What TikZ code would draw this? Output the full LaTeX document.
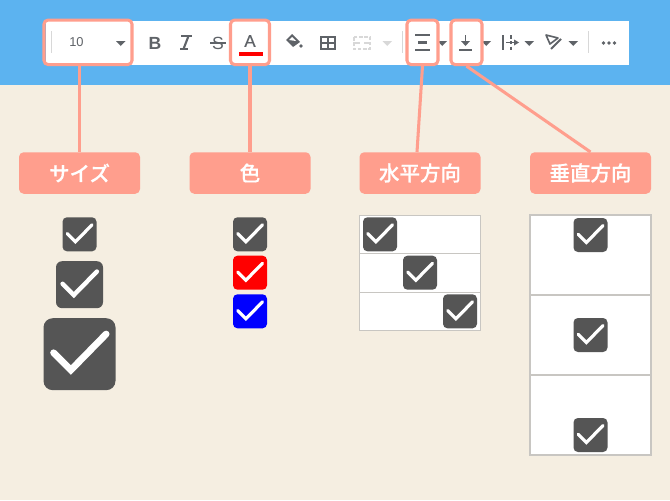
\documentclass[tikz,border=0pt]{standalone}
\usepackage{fontspec}
\setmainfont{Noto Sans CJK JP Medium}[FakeBold=0.5]
\newfontfamily\iconfont{Liberation Sans}
\newfontfamily\iconmed{Liberation Sans}[FakeBold=0.5]
\definecolor{bgcream}{HTML}{F5EEE1}
\definecolor{bandblue}{HTML}{5CB3F0}
\definecolor{salmon}{HTML}{FF9E8D}
\definecolor{icongrey}{HTML}{5F6368}
\definecolor{icondim}{HTML}{D8D8D8}
\definecolor{chkgrey}{HTML}{555555}
\definecolor{tablegrey}{HTML}{C8C6C2}

\begin{document}
\begin{tikzpicture}[x=0.03cm, y=-0.03cm]
\tikzset{hilite/.style={draw=salmon, line width=2.6pt, rounded corners=3.5pt, minimum height=44.5*0.03cm, inner sep=0pt},
  lab/.style={fill=salmon, text=white, rounded corners=4pt, minimum width=121*0.03cm, minimum height=41.5*0.03cm, inner sep=0pt, font=\fontsize{17.5}{17.5}\selectfont},
  link/.style={draw=salmon, line width=2.6pt},
  caret/.style={fill=icongrey},
  ico/.style={text=icongrey, inner sep=0pt, font=\iconfont\bfseries\fontsize{15}{15}\selectfont},
  glyph/.style={draw=icongrey, line width=1.8pt},
  dimglyph/.style={draw=icondim, line width=1.6pt},
  cell/.style={draw=tablegrey, fill=white, line width=0.8pt},
  cellb/.style={draw=tablegrey, fill=white, line width=1.3pt},
  pics/chk/.style n args={2}{code={
    \fill[#2, rounded corners=#1*0.11pt] (-0.5*#1, -0.5*#1) rectangle (0.5*#1, 0.5*#1);
    \draw[white, line width=#1*0.08pt, line cap=round, line join=miter] (-0.36*#1, -0.02*#1) -- (-0.12*#1, 0.22*#1) -- (0.37*#1, -0.28*#1);
  }}}
\useasboundingbox (0, 0) rectangle (670, 500);
\fill[bgcream] (0, 0) rectangle (670, 500);
\fill[bandblue] (0, 0) rectangle (670, 85);
\fill[white] (46, 20.5) rectangle (629, 64.5);

% toolbar
\draw[icondim, line width=0.8pt] (51, 31) -- (51, 53);
\node[text=icongrey, inner sep=0pt, font=\iconfont\fontsize{11}{11}\selectfont] (fontsize) at (76.5, 42.5) {10};
\fill[caret] (116, 41) -- (125.5, 41) -- (120.75, 46) -- cycle;
\node[ico] (bold) at (155, 43) {B};
\draw[glyph] (181, 36) -- (192, 36);
\draw[glyph] (188.5, 36) -- (183.5, 49);
\draw[glyph] (180, 49) -- (188, 49);
\node[ico, font=\iconfont\fontsize{15}{15}\selectfont] (strike) at (218, 43) {S};
\draw[glyph, line width=1.2pt] (210, 43) -- (226, 43);
\node[ico, font=\iconmed\fontsize{14.5}{14.5}\selectfont] (textcolor) at (250, 41) {A};
\fill[red] (239, 52) rectangle (263, 56);

% paint bucket
\fill[icongrey] (286, 40) -- (292, 34) -- (300, 42) -- (293, 47) -- cycle;
\fill[white] (289, 40) -- (292, 37) -- (296, 41) -- cycle;
\fill[icongrey] (301, 46) circle (1.8);
\draw[glyph] (321, 37) rectangle (335, 49);
\draw[glyph] (328, 37) -- (328, 49);
\draw[glyph] (321, 43) -- (335, 43);

% merge
\draw[dimglyph, dash pattern=on 3pt off 1.5pt] (354, 37) rectangle (370, 49);
\draw[dimglyph] (354, 43) -- (360, 43);
\draw[dimglyph] (364, 43) -- (370, 43);
\fill[icondim] (382.5, 41) -- (392, 41) -- (387.25, 46) -- cycle;
\draw[icondim, line width=0.8pt] (402, 31) -- (402, 53);

% halign
\draw[glyph] (415, 35.3) -- (430, 35.3);
\draw[glyph] (418, 42.5) -- (427, 42.5);
\draw[glyph] (415, 49.7) -- (430, 49.7);
\fill[caret] (437.5, 41) -- (447, 41) -- (442.25, 46) -- cycle;

% valign
\draw[glyph, line width=1.5pt] (465.5, 35) -- (465.5, 43);
\fill[icongrey] (461, 41) -- (470, 41) -- (465.5, 46) -- cycle;
\draw[glyph] (459, 49.7) -- (472, 49.7);
\fill[caret] (481.5, 41) -- (491, 41) -- (486.25, 46) -- cycle;

% wrap
\draw[glyph] (503, 35) -- (503, 50);
\draw[glyph, dash pattern=on 3pt off 2pt] (511, 35) -- (511, 50);
\draw[glyph, line width=1.3pt] (506, 42.5) -- (516, 42.5);
\fill[icongrey] (514, 39.5) -- (519, 42.5) -- (514, 45.5) -- cycle;
\fill[caret] (524.5, 41) -- (534, 41) -- (529.25, 46) -- cycle;

% rotate
\draw[glyph, line width=1.4pt, line join=round] (546, 35) -- (558, 38) -- (550, 44) -- cycle;
\draw[glyph] (551, 49) -- (561, 39);
\fill[caret] (568.5, 41) -- (578, 41) -- (573.25, 46) -- cycle;
\draw[icondim, line width=0.8pt] (588, 31) -- (588, 53);
\fill[icongrey] (603.5, 43) circle (1.9);
\fill[icongrey] (609, 43) circle (1.9);
\fill[icongrey] (614.5, 43) circle (1.9);

% frames
\node[hilite, minimum width=88*0.03cm] (sizebox) at (88, 42.3) {};
\node[hilite, minimum width=39*0.03cm] (colorbox) at (250, 42.3) {};
\node[hilite, minimum width=31*0.03cm] (halignbox) at (422.5, 42.3) {};
\node[hilite, minimum width=31*0.03cm] (valignbox) at (466.5, 42.3) {};

% labels
\node[lab] (sizelab) at (79.5, 173) {サイズ};
\node[lab] (colorlab) at (250, 173) {色};
\node[lab] (halignlab) at (420, 173) {水平方向};
\node[lab] (valignlab) at (590.5, 173) {垂直方向};
\coordinate (halignend) at (417, 152);
\coordinate (sizestart) at (79.5, 65);
\draw[link] (sizestart) -- (sizelab);
\draw[link] (colorbox) -- (colorlab);
\draw[link] (halignbox.south) -- (halignend);
\draw[link] (valignbox.south) -- (valignlab.north);

% sizes
\pic at (79.5, 234.3) {chk={34}{chkgrey}};
\pic at (79.5, 284.7) {chk={47}{chkgrey}};
\pic at (79.5, 354.2) {chk={72}{chkgrey}};

% colours
\pic at (250, 234.3) {chk={34}{chkgrey}};
\pic at (250, 272.7) {chk={34}{red}};
\pic at (250, 311.3) {chk={34}{blue}};

% horizontal
\draw[cell] (359.5, 215) rectangle (480.5, 330.5);
\draw[cell] (359.5, 253.5) -- (480.5, 253.5);
\draw[cell] (359.5, 292) -- (480.5, 292);
\pic at (380, 234.3) {chk={34}{chkgrey}};
\pic at (420, 272.7) {chk={34}{chkgrey}};
\pic at (460, 311.3) {chk={34}{chkgrey}};

% vertical
\draw[cellb] (530, 215) rectangle (651, 455);
\draw[cellb] (530, 295) -- (651, 295);
\draw[cellb] (530, 375) -- (651, 375);
\pic at (590.5, 235) {chk={34}{chkgrey}};
\pic at (590.5, 335) {chk={34}{chkgrey}};
\pic at (590.5, 435) {chk={34}{chkgrey}};
\end{tikzpicture}
\end{document}
